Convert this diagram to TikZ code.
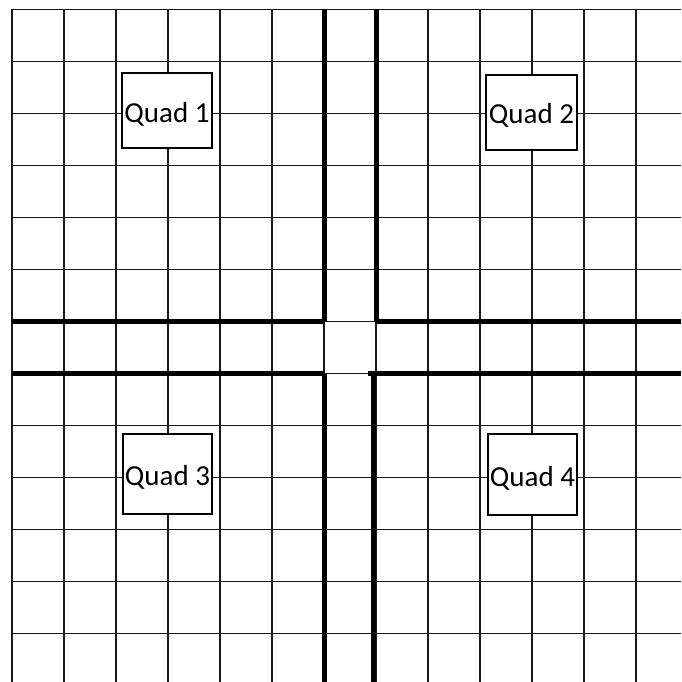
\documentclass[tikz,border=0pt]{standalone}
\usepackage{fontspec}
\setmainfont{Carlito}
\usepackage{tikz}
\usetikzlibrary{positioning}
\tikzset{
  gridline/.style={line width=1.6pt,black!90},
  axisline/.style={line width=5pt,black},
  quadbox/.style={rectangle,draw,fill=white,line width=1.6pt,minimum width=90pt,minimum height=75pt,inner sep=0pt,text height=23pt,text depth=0pt,font=\fontsize{29}{35}\selectfont}
}
\begin{document}
\begin{tikzpicture}[x=1pt,y=-1pt]
    \useasboundingbox[fill=white] (0,0) rectangle (681,682);
    % thin grid
    \foreach \k in {0,...,12} {
        \draw[gridline] (12+52*\k,9.5) -- (12+52*\k,682);
        \draw[gridline] (12,9.5+52*\k) -- (681,9.5+52*\k);
    }
    % thick axes round the centre square
    \draw[axisline] (324,9.5) -- (324,321.5);
    \draw[axisline] (376,9.5) -- (376,321.5);
    \draw[axisline] (12,321.5) -- (324,321.5);
    \draw[axisline] (376,321.5) -- (681,321.5);
    \draw[axisline] (12,373.5) -- (324,373.5);
    \draw[axisline] (368,373.5) -- (681,373.5);
    \draw[axisline] (324,373.5) -- (324,682);
    \draw[axisline] (373,373.5) -- (373,682);

    \node[quadbox] (q1) at (167,110.5) {Quad 1};
    \node[quadbox,minimum width=91pt] (q2) at (531.5,112.5) {Quad 2};
    \node[quadbox,minimum width=89pt,minimum height=80pt] (q3) at (167.5,474) {Quad 3};
    \node[quadbox,minimum width=89pt,minimum height=81pt] (q4) at (532.5,474.5) {Quad 4};
\end{tikzpicture}
\end{document}
